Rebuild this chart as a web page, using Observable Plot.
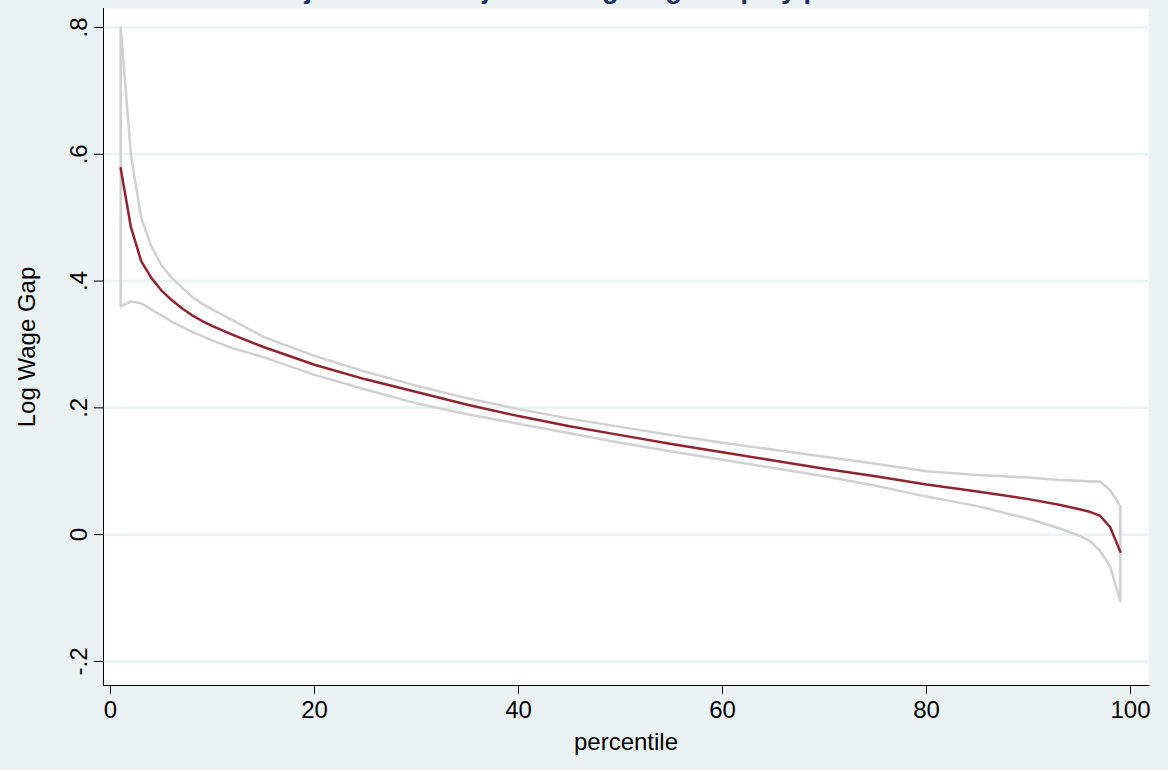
<!DOCTYPE html>
<html><head><meta charset="utf-8">
<script src="https://cdn.jsdelivr.net/npm/d3@7"></script>
<script src="https://cdn.jsdelivr.net/npm/@observablehq/plot@0.6"></script>
<style>
body{margin:0;background:#eaf2f3;overflow:hidden;font-family:"Liberation Sans",Arial,sans-serif}
#wrap{position:relative;width:1168px;height:770px}
#title{position:absolute;top:-26px;left:0;width:1168px;text-align:center;font-weight:bold;font-size:27px;color:#1a2b5f}
#chart svg text{font-size:24px}
</style></head>
<body><div id="wrap"><div id="title">Unadjusted and Adjusted Log Wage Gap by percentile</div><div id="chart"></div></div>
<script>
const pct   = [1,2,3,4,5,6,7,8,9,10,12,15,20,25,30,35,40,45,50,55,60,65,70,75,80,85,90,93,95,96,97,98,99]
const gap   = [0.578,0.485,0.432,0.405,0.385,0.370,0.357,0.346,0.337,0.329,0.315,0.296,0.268,0.245,0.225,0.205,0.187,0.171,0.157,0.143,0.130,0.117,0.104,0.092,0.079,0.068,0.056,0.047,0.040,0.036,0.030,0.012,-0.027]
const upper = [0.800,0.600,0.500,0.455,0.425,0.405,0.390,0.375,0.364,0.355,0.338,0.312,0.282,0.257,0.235,0.215,0.198,0.183,0.170,0.157,0.145,0.134,0.123,0.112,0.100,0.094,0.090,0.086,0.085,0.084,0.084,0.070,0.045]
const lower = [0.360,0.368,0.365,0.355,0.346,0.336,0.328,0.320,0.313,0.306,0.294,0.280,0.252,0.229,0.207,0.190,0.175,0.160,0.145,0.131,0.118,0.105,0.092,0.077,0.060,0.045,0.025,0.010,-0.002,-0.010,-0.025,-0.050,-0.105]
const yTicks = [-0.2,0,0.2,0.4,0.6,0.8]
const yLabels = ["-.2","0",".2",".4",".6",".8"]
const xTicks = [0,20,40,60,80,100]

const main = pct.map((p,i)=>({p, v: gap[i]}))
// confidence band outline: upper left->right, lower right->left, closed at start
const band = [...pct.map((p,i)=>({p, v: upper[i]})), ...pct.map((p,i)=>({p, v: lower[i]})).reverse(), {p: pct[0], v: upper[0]}]

const chart = Plot.plot({
  width: 1168, height: 770,
  marginLeft: 103, marginRight: 20, marginTop: 8, marginBottom: 85,
  style: {background: "#eaf2f3", fontFamily: "Liberation Sans, Arial, sans-serif", fontSize: "24px", color: "black"},
  x: {domain: [0,100], insetLeft: 7, insetRight: 18},
  y: {domain: [-0.238, 0.83]},
  marks: [
    Plot.frame({fill: "white", stroke: null}),
    Plot.ruleY(yTicks, {stroke: "#eaf2f3", strokeWidth: 2.5}),
    Plot.line(band, {x: "p", y: "v", stroke: "#d0d0d0", strokeWidth: 2.5}),
    Plot.line(main, {x: "p", y: "v", stroke: "#8f2430", strokeWidth: 2.5}),
    Plot.frame({anchor: "left", stroke: "black"}),
    Plot.frame({anchor: "bottom", stroke: "black"}),
    Plot.axisY(yTicks, {tickFormat: (d,i)=>yLabels[i], tickRotate: -90, tickSize: 9, tickPadding: 8,
      label: "Log Wage Gap", labelAnchor: "center", labelArrow: false, labelOffset: 86}),
    Plot.axisX(xTicks, {tickSize: 9, tickPadding: 6,
      label: "percentile", labelAnchor: "center", labelArrow: false, labelOffset: 64})
  ]
})
document.getElementById("chart").append(chart)
</script></body></html>
